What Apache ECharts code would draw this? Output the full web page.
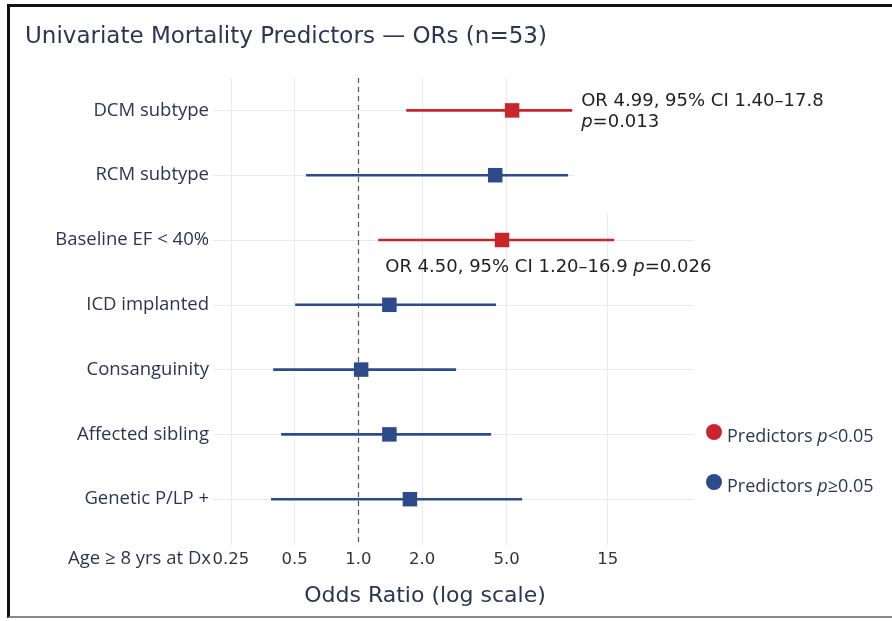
<!DOCTYPE html>
<html>
<head>
<meta charset="utf-8">
<script src="https://cdn.jsdelivr.net/npm/echarts@6/dist/echarts.min.js"></script>
<style>
html,body{margin:0;padding:0;background:#fff;}
#chart{position:absolute;left:0;top:0;width:892px;height:621px;}
#frame{position:absolute;left:7px;top:4px;width:890px;height:614px;border-left:3px solid #111;border-top:3px solid #111;border-bottom:2px solid #888;box-sizing:border-box;pointer-events:none;}
</style>
</head>
<body>
<div id="chart"></div>
<div id="frame"></div>
<script>
// ---- data ----
const categories = ['DCM subtype', 'RCM subtype', 'Baseline EF < 40%', 'ICD implanted', 'Consanguinity', 'Affected sibling', 'Genetic P/LP +', 'Age ≥ 8 yrs at Dx'];
const orValues = [5.31, 4.42, 4.76, 1.40, 1.03, 1.40, 1.75];
const ciLow    = [1.68, 0.566, 1.24, 0.503, 0.396, 0.432, 0.387];
const ciHigh   = [10.2, 9.76, 16.1, 4.46, 2.89, 4.23, 5.92];
const significant = [true, false, true, false, false, false, false];
const annotationTexts = ['OR 4.99, 95% CI 1.40–17.8\n{i|p}=0.013', '', 'OR 4.50, 95% CI 1.20–16.9 {i|p}=0.026', '', '', '', ''];
const xTickValues = [0.25, 0.5, 1, 2, 5, 15];
const xTickLabels = ['0.25', '0.5', '1.0', '2.0', '5.0', '15'];
const referenceOR = 1;
const xRange = [0.206, 37.9];
const seriesNames = ['Predictors p<0.05', 'Predictors p≥0.05'];

// ---- styles ----
const RED = '#c8262f';
const BLUE = '#2d4b8b';
const TEXT = '#2b3650';
const GRID = '#e9e9ef';
const annotationStyle = {
  0: {anchor: 'high', dx: 3, dy: -39.5, verticalAlign: 'top', bg: '#fff', padding: [20, 13, 80, 6]},
  2: {anchor: 'low', dx: 7, dy: 27, verticalAlign: 'middle', bg: null, padding: 0}
};

const log2 = Math.log2;
const rowsOf = (sig) => orValues.map((v, i) => i).filter(i => significant[i] === sig)
  .map(i => [log2(orValues[i]), i, log2(ciLow[i]), log2(ciHigh[i])]);

function renderItem(params, api) {
  const idx = api.value(1);
  const lo = api.coord([api.value(2), idx]);
  const hi = api.coord([api.value(3), idx]);
  const mid = api.coord([api.value(0), idx]);
  const color = api.visual('color');
  const s = 14.5;
  const children = [
    {type: 'line', shape: {x1: lo[0], y1: lo[1], x2: hi[0], y2: hi[1]}, style: {stroke: color, lineWidth: 2.6}},
    {type: 'rect', shape: {x: mid[0] - s / 2, y: mid[1] - s / 2, width: s, height: s}, style: {fill: color}}
  ];
  const txt = annotationTexts[idx];
  if (txt) {
    const st = annotationStyle[idx];
    const base = st.anchor === 'high' ? hi : lo;
    children.unshift({
      type: 'text', x: base[0] + st.dx, y: base[1] + st.dy, z2: -1,
      style: {
        text: txt, fill: '#222', fontSize: 18, fontFamily: 'DejaVu Sans', lineHeight: 21,
        verticalAlign: st.verticalAlign, align: 'left',
        backgroundColor: st.bg || 'transparent', padding: st.padding,
        rich: {i: {fontStyle: 'italic', fontSize: 18, fontFamily: 'DejaVu Sans', lineHeight: 21, fill: '#222'}}
      }
    });
  }
  return {type: 'group', children};
}

function xLabel(v) {
  let best = 0, bd = Infinity;
  xTickValues.forEach((t, i) => { const d = Math.abs(log2(t) - v); if (d < bd) { bd = d; best = i; } });
  return xTickLabels[best];
}

const chart = echarts.init(document.getElementById('chart'), null, {renderer: 'canvas'});
const rowIdx = orValues.map((v, i) => i);
chart.setOption({
  animation: false,
  backgroundColor: '#fff',
  title: {
    text: 'Univariate Mortality Predictors — ORs (n=53)',
    left: 20, top: 21,
    textStyle: {fontFamily: 'DejaVu Sans', fontSize: 23, fontWeight: 'normal', color: TEXT}
  },
  legend: {
    orient: 'vertical', left: 706, top: 424, itemGap: 28, padding: 0,
    itemWidth: 16, itemHeight: 16, icon: 'circle',
    data: seriesNames,
    formatter: name => name.replace(' p', ' {i|p}'),
    textStyle: {fontFamily: 'Open Sans', fontSize: 18, color: TEXT, padding: [10, 0, 0, 0],
      rich: {i: {fontStyle: 'italic', fontFamily: 'Open Sans', fontSize: 18, color: TEXT}}}
  },
  grid: [
    {left: 213, right: 199, top: 78, bottom: 76},
    {left: 213, right: 199, top: 545, height: 28}
  ],
  xAxis: [{
    type: 'value', gridIndex: 0,
    min: log2(xRange[0]), max: log2(xRange[1]),
    axisLine: {show: false},
    axisTick: {show: false, customValues: xTickValues.map(log2)},
    splitLine: {show: true, lineStyle: {color: GRID, width: 1}},
    axisLabel: {customValues: xTickValues.map(log2), formatter: xLabel, margin: 6,
      fontFamily: 'DejaVu Sans', fontSize: 16.5, color: '#333'},
    name: 'Odds Ratio (log scale)', nameLocation: 'middle', nameGap: 40,
    nameTextStyle: {fontFamily: 'DejaVu Sans', fontSize: 22, color: TEXT, padding: [0, 56, 0, 0]}
  }, {
    type: 'value', gridIndex: 1, show: false, min: 0, max: 1
  }],
  yAxis: [{
    type: 'value', gridIndex: 0, inverse: true, min: -0.5, max: 6.707,
    axisLine: {show: false},
    axisTick: {show: false, customValues: rowIdx},
    splitLine: {show: true, lineStyle: {color: GRID, width: 1}},
    axisLabel: {customValues: rowIdx, formatter: v => categories[Math.round(v)], margin: 4,
      fontFamily: 'Open Sans', fontSize: 18.5, color: TEXT}
  }, {
    type: 'category', gridIndex: 1, data: [categories[7]],
    axisLine: {show: false}, axisTick: {show: false}, splitLine: {show: false},
    axisLabel: {margin: 2, fontFamily: 'Open Sans', fontSize: 18.5, color: TEXT}
  }],
  series: [{
    name: seriesNames[0], type: 'custom', renderItem,
    xAxisIndex: 0, yAxisIndex: 0,
    itemStyle: {color: RED},
    encode: {x: [0, 2, 3], y: 1},
    data: rowsOf(true),
    z: 3,
    markLine: {
      silent: true, symbol: 'none', label: {show: false},
      lineStyle: {color: '#555', type: [5, 4], width: 1.2},
      data: [{xAxis: log2(referenceOR)}]
    }
  }, {
    name: seriesNames[1], type: 'custom', renderItem,
    xAxisIndex: 0, yAxisIndex: 0,
    itemStyle: {color: BLUE},
    encode: {x: [0, 2, 3], y: 1},
    data: rowsOf(false),
    z: 3
  }]
});
</script>
</body>
</html>
